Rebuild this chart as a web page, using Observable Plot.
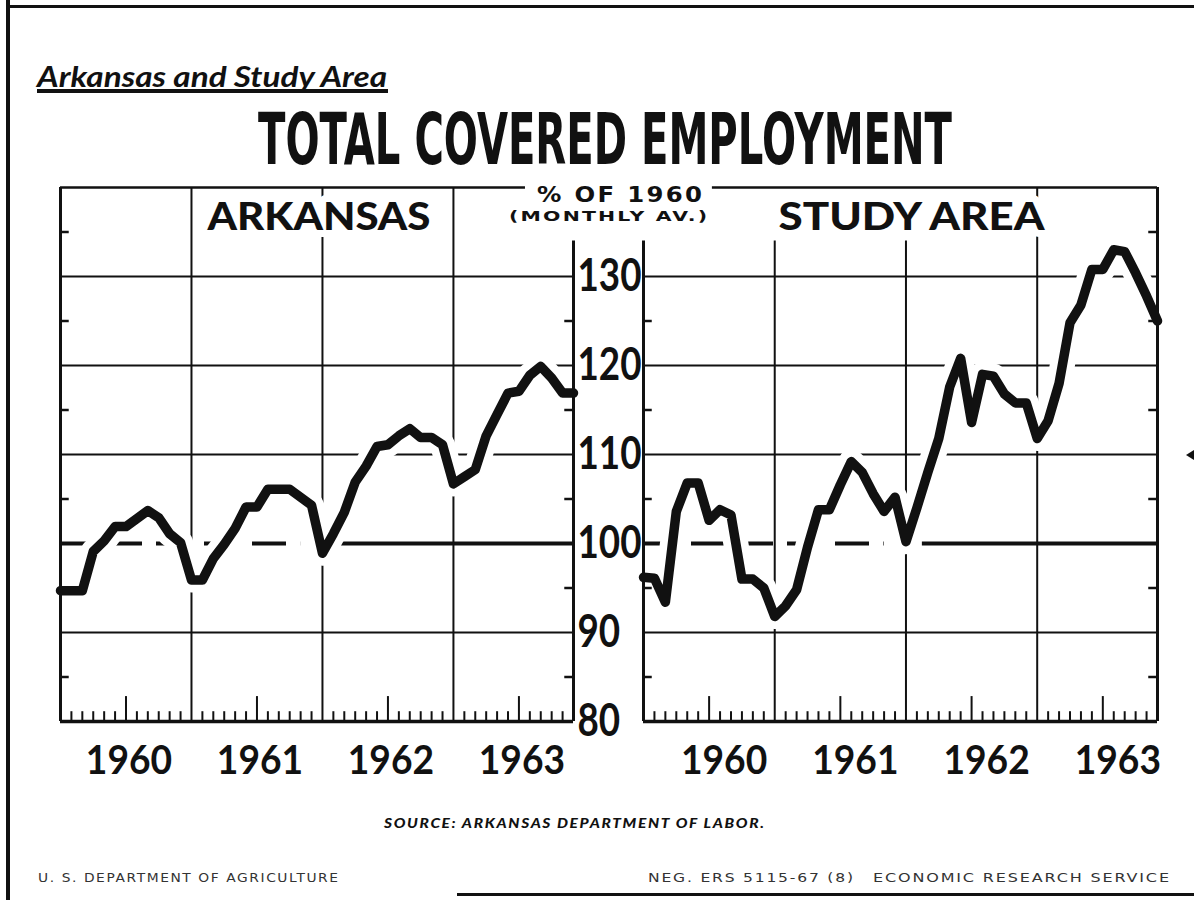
<!DOCTYPE html>
<html>
<head>
<meta charset="utf-8">
<script src="https://cdn.jsdelivr.net/npm/d3@7"></script>
<script src="https://cdn.jsdelivr.net/npm/@observablehq/plot@0.6"></script>
<style>
  html, body { margin: 0; padding: 0; background: #fff; }
  #page { position: relative; width: 1194px; height: 900px; overflow: hidden; background: #fff; }
  .t { position: absolute; white-space: nowrap; line-height: 0.8; color: #111; transform-origin: 0 0; }
  .rule { position: absolute; background: #111; }
  .panel { position: absolute; top: 0; }
  .mark { position: absolute; width: 0; height: 0; border-top: 5px solid transparent; border-bottom: 5px solid transparent; border-right: 8px solid #111; }
</style>
</head>
<body>
<div id="page"></div>
<script>
// ---------------- data ----------------
const monthIndex = Array.from({length: 48}, (_, i) => i); // Jan 1960 ... Dec 1963
const arkansas = [
  94.7, 94.7, 94.7, 99.1, 100.3, 101.9, 101.9, 102.8, 103.7, 102.9, 101.1, 100.1,
  95.9, 95.9, 98.3, 99.9, 101.7, 104.1, 104.1, 106.1, 106.1, 106.1, 105.2, 104.3,
  98.9, 101.1, 103.5, 106.9, 108.7, 110.9, 111.1, 112.1, 112.9, 111.9, 111.9, 111.1,
  106.7, 107.5, 108.3, 112.1, 114.5, 116.9, 117.1, 118.9, 119.9, 118.6, 116.9, 116.9
];
const studyArea = [
  96.2, 96.1, 93.4, 103.6, 106.8, 106.8, 102.6, 103.8, 103.2, 96.0, 96.0, 95.0,
  91.8, 93.0, 94.8, 99.6, 103.8, 103.8, 106.6, 109.2, 108.0, 105.6, 103.6, 105.2,
  100.2, 104.0, 108.0, 111.8, 117.6, 120.8, 113.6, 119.0, 118.8, 116.8, 115.8, 115.8,
  111.8, 113.8, 118.0, 124.8, 126.8, 130.8, 130.8, 133.0, 132.8, 130.4, 127.8, 125.0
];
const yearLabels = ["1960", "1961", "1962", "1963"];
const yTicks = [80, 90, 100, 110, 120, 130];
const gridValues = [90, 110, 120, 130];
const edgeTickValues = [85, 95, 105, 115, 125, 135];
const yearBoundaries = [12, 24, 36];
const midYears = [6, 18, 30, 42];
const monthTicks = monthIndex.filter(m => m > 0 && m < 47 && m % 6 !== 0);

const page = document.getElementById("page");
const ink = "#111";

// ---------------- one panel ----------------
function panel(o) {
  const rows = monthIndex.map(m => ({m, v: o.values[m]}));
  const svg = Plot.plot({
    width: o.width, height: 800,
    marginLeft: o.marginLeft, marginRight: o.marginRight, marginTop: 187, marginBottom: 79,
    x: {domain: [0, 47], axis: null},
    y: {domain: [80, 140], axis: null},
    style: {background: "transparent", overflow: "visible", fontFamily: "Lato, 'DejaVu Sans', sans-serif", color: ink},
    marks: [
      Plot.ruleY(gridValues, {stroke: ink, strokeWidth: 2}),
      Plot.ruleY([100], {x1: 0, x2: 22, stroke: ink, strokeWidth: 4, strokeDasharray: "34,14"}),
      Plot.ruleY([100], {x1: 25.5, x2: 47, stroke: ink, strokeWidth: 4}),
      Plot.ruleX(yearBoundaries, {y1: 80, y2: d => o.gridTop[d], stroke: ink, strokeWidth: 2}),
      // white halo under the curve
      Plot.line(rows, {x: "m", y: "v", stroke: "white", strokeWidth: 25, strokeLinejoin: "round"}),
      // frame
      Plot.ruleY([80], {x1: 0, x2: 47, stroke: ink, strokeWidth: 3.5}),
      Plot.ruleY([140], {x1: o.topX1, x2: o.topX2, stroke: ink, strokeWidth: 2.5}),
      Plot.ruleX([0], {y1: 80, y2: o.leftTop, stroke: ink, strokeWidth: 3}),
      Plot.ruleX([47], {y1: 80, y2: o.rightTop, stroke: ink, strokeWidth: 3}),
      // month ticks along the bottom
      Plot.ruleX(monthTicks, {y1: 80, y2: 81.1, stroke: ink, strokeWidth: 2}),
      Plot.ruleX(midYears, {y1: 80, y2: 82.8, stroke: ink, strokeWidth: 2}),
      // small ticks on the side edges
      Plot.ruleY(edgeTickValues.filter(v => v < o.leftTop), {x1: 0, x2: 0.8, stroke: ink, strokeWidth: 2.5}),
      Plot.ruleY(edgeTickValues.filter(v => v < o.rightTop), {x1: 46.2, x2: 47, stroke: ink, strokeWidth: 2.5}),
      // the curve
      Plot.line(rows, {x: "m", y: "v", stroke: ink, strokeWidth: 9.5, strokeLinejoin: "round"}),
      // panel name
      Plot.text([o.label], {frameAnchor: "top", lineAnchor: "top", dx: o.labelDx, dy: 16,
        fontSize: 38, fontWeight: 900, fill: ink, stroke: "white", strokeWidth: 14, paintOrder: "stroke"}),
      // years
      Plot.axisX(midYears, {tickFormat: d => yearLabels[(d - 6) / 12], tickSize: 0, tickPadding: 24,
        fontSize: 40, fontWeight: 700, dx: o.yearDx, label: null}),
      o.showY ? Plot.axisY(yTicks, {anchor: "right", tickSize: 0, tickPadding: 4, fontSize: 46,
        fontWeight: 700, label: null}) : null
    ]
  });
  svg.classList.add("panel");
  svg.style.left = o.left + "px";
  page.appendChild(svg);
  d3.select(svg).selectAll("text").each(function() {
    if (this.textContent === o.label) {
      this.setAttribute("textLength", o.labelWidth);
      this.setAttribute("lengthAdjust", "spacingAndGlyphs");
    }
  });
  d3.select(svg).selectAll('g[aria-label="y-axis tick label"] text').each(function() {
    const w = this.getComputedTextLength();
    this.setAttribute("textLength", w * 0.8);
    this.setAttribute("lengthAdjust", "spacingAndGlyphs");
  });
  d3.select(svg).selectAll('g[aria-label="x-axis tick label"] text').each(function() {
    const w = this.getComputedTextLength();
    this.setAttribute("textLength", w * 0.93);
    this.setAttribute("lengthAdjust", "spacingAndGlyphs");
  });
  return svg;
}

panel({values: arkansas, label: "ARKANSAS", labelWidth: 223, labelDx: 2, yearDx: 3,
  left: 0, width: 640, marginLeft: 60, marginRight: 67,
  gridTop: {12: 140, 24: 140, 36: 140}, leftTop: 140, rightTop: 134, topX1: 0, topX2: 42.6, showY: true});
panel({values: studyArea, label: "STUDY AREA", labelWidth: 266, labelDx: 11, yearDx: 15,
  left: 620, width: 574, marginLeft: 23, marginRight: 37,
  gridTop: {12: 134, 24: 134, 36: 140}, leftTop: 134, rightTop: 140, topX1: 6.3, topX2: 47, showY: false});

// ---------------- titles, notes, borders ----------------
// cap-top offsets (in em) for line-height 0.8
const LATO = 0.0705, DEJAVU = 0.017;
function addText(txt, o) {
  const el = document.createElement("div");
  el.className = "t";
  el.textContent = txt;
  el.style.fontFamily = o.font;
  el.style.fontSize = o.size + "px";
  el.style.fontWeight = o.weight || "bold";
  el.style.fontStyle = o.italic ? "italic" : "normal";
  if (o.spacing) el.style.letterSpacing = o.spacing + "px";
  if (o.color) el.style.color = o.color;
  page.appendChild(el);
  const w = el.getBoundingClientRect().width - (o.spacing || 0);
  el.style.transform = `scaleX(${o.width / w})`;
  const left = o.center != null ? o.center - o.width / 2 : o.left;
  el.style.left = left + "px";
  el.style.top = (o.capTop - o.cap * o.size) + "px";
}
function addRule(left, top, width, height) {
  const el = document.createElement("div");
  el.className = "rule";
  Object.assign(el.style, {left: left + "px", top: top + "px", width: width + "px", height: height + "px"});
  page.appendChild(el);
}

addText("Arkansas and Study Area", {font: "Lato", size: 29, italic: true, left: 37, width: 350, capTop: 66, cap: LATO});
addRule(37, 89, 351, 4);
addText("TOTAL COVERED EMPLOYMENT", {font: "'DejaVu Sans'", size: 72, left: 258, width: 694, capTop: 112, cap: DEJAVU});
addText("% OF 1960", {font: "'DejaVu Sans'", size: 21, spacing: 2, center: 619, width: 165, capTop: 187, cap: DEJAVU});
addText("(MONTHLY AV.)", {font: "'DejaVu Sans'", size: 14, spacing: 1.5, center: 608, width: 198, capTop: 211, cap: DEJAVU});
addText("SOURCE: ARKANSAS DEPARTMENT OF LABOR.", {font: "Lato", size: 14, italic: true, weight: 900, spacing: 1.5,
  left: 384, width: 380, capTop: 818, cap: LATO});
addText("U. S. DEPARTMENT OF AGRICULTURE", {font: "'DejaVu Sans'", size: 13, weight: "normal", spacing: 1.5,
  left: 38, width: 300, capTop: 873, cap: DEJAVU, color: "#333"});
addText("NEG. ERS 5115-67 (8)", {font: "'DejaVu Sans'", size: 13, weight: "normal", spacing: 1.5,
  left: 648, width: 205, capTop: 873, cap: DEJAVU, color: "#333"});
addText("ECONOMIC RESEARCH SERVICE", {font: "'DejaVu Sans'", size: 13, weight: "normal", spacing: 1.5,
  left: 873, width: 296, capTop: 873, cap: DEJAVU, color: "#333"});

// outer border pieces of the scanned sheet
addRule(6, 0, 4, 900);
addRule(6, 5, 1188, 3);
addRule(457, 893, 737, 3);
const mk = document.createElement("div");
mk.className = "mark";
Object.assign(mk.style, {left: "1186px", top: "450px"});
page.appendChild(mk);
</script>
</body>
</html>
